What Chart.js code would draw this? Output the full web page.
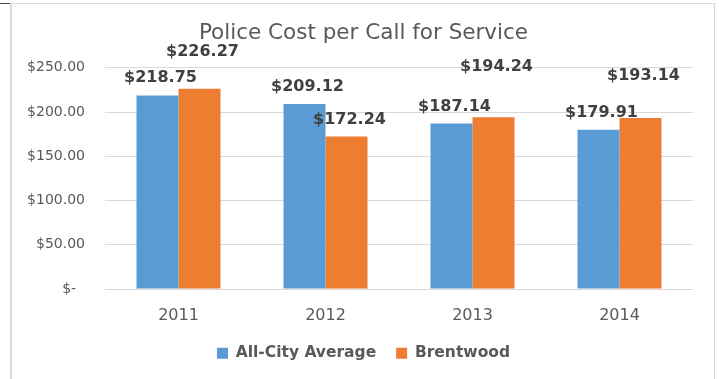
<!DOCTYPE html>
<html>
<head>
<meta charset="utf-8">
<script src="https://cdn.jsdelivr.net/npm/chart.js@4.4.1/dist/chart.umd.min.js"></script>
<style>
  html, body { margin: 0; padding: 0; background: #ffffff; }
  #wrap { width: 719px; height: 379px; position: relative; }
</style>
</head>
<body>
<div id="wrap"><canvas id="c" width="719" height="379"></canvas></div>
<script>
const categories = ['2011', '2012', '2013', '2014'];
const allCityAverage = [218.75, 209.12, 187.14, 179.91];
const brentwood = [226.27, 172.24, 194.24, 193.14];
const seriesNames = ['All-City Average', 'Brentwood'];
const yTickValues = [0, 50, 100, 150, 200, 250];
const chartTitle = 'Police Cost per Call for Service';

// label lift above bar top (pixels), as placed in the original
const labelLift = [
  [19, 18, 18, 18],
  [38, 18, 51, 43]
];

const FONT = '"DejaVu Sans", sans-serif';
const fmt = v => '$' + v.toFixed(2);

const framePlugin = {
  id: 'frame',
  beforeDraw(chart) {
    const ctx = chart.ctx;
    ctx.save();
    ctx.fillStyle = '#ffffff';
    ctx.fillRect(0, 0, chart.width, chart.height);
    ctx.fillStyle = '#d9d9d9';
    ctx.fillRect(10, 3, 706, 1);
    ctx.fillRect(10, 3, 2, chart.height - 3);
    ctx.fillRect(714, 3, 1, chart.height - 3);
    ctx.fillStyle = '#44546a';
    ctx.fillRect(0, 3, 10, 1);
    ctx.restore();
  }
};

const labelPlugin = {
  id: 'barLabels',
  afterDatasetsDraw(chart) {
    const ctx = chart.ctx;
    ctx.save();
    ctx.font = 'bold 16px ' + FONT;
    ctx.fillStyle = '#404040';
    ctx.textAlign = 'center';
    ctx.textBaseline = 'middle';
    chart.data.datasets.forEach((ds, di) => {
      const meta = chart.getDatasetMeta(di);
      meta.data.forEach((bar, i) => {
        ctx.fillText(fmt(ds.data[i]), bar.x + 3, bar.y - labelLift[di][i] + 1);
      });
    });
    ctx.restore();
  }
};

new Chart(document.getElementById('c'), {
  type: 'bar',
  data: {
    labels: categories,
    datasets: [
      { label: seriesNames[0], data: allCityAverage, backgroundColor: '#5b9bd5', yAxisID: 'y' },
      { label: seriesNames[1], data: brentwood, backgroundColor: '#ed7d31', yAxisID: 'y' }
    ]
  },
  options: {
    responsive: false,
    animation: false,
    devicePixelRatio: 1,
    layout: { padding: { left: 8, right: 0, top: 0, bottom: 8 } },
    datasets: { bar: { categoryPercentage: 1 / 1.75, barPercentage: 1 } },
    scales: {
      x: {
        grid: { display: false, drawTicks: false },
        border: { display: false },
        ticks: { color: '#595959', font: { family: FONT, size: 16 }, padding: 17 },
        afterFit(s) { s.height = 36.5; }
      },
      y: {
        position: 'left',
        min: 0, max: 250,
        afterBuildTicks(s) { s.ticks = yTickValues.map(v => ({ value: v })); },
        grid: { color: '#d9d9d9', drawTicks: false },
        border: { display: false },
        ticks: {
          color: '#595959',
          font: { family: FONT, size: 14 },
          padding: 20,
          callback: v => v === 0 ? '$-  ' : fmt(v)
        },
        afterFit(s) { s.width = 97; }
      },
      yRight: {
        position: 'right',
        display: true,
        grid: { display: false, drawTicks: false },
        border: { display: false },
        ticks: { display: false },
        afterFit(s) { s.width = 26; }
      }
    },
    plugins: {
      title: {
        display: true,
        text: chartTitle,
        color: '#595959',
        font: { family: FONT, size: 21.5, weight: 'normal' },
        padding: { top: 21, bottom: 21 }
      },
      legend: {
        position: 'bottom',
        labels: {
          color: '#595959',
          font: { family: FONT, size: 15.5, weight: 'bold' },
          boxWidth: 11, boxHeight: 11,
          padding: 20
        }
      },
      tooltip: { enabled: false }
    }
  },
  plugins: [framePlugin, labelPlugin]
});
</script>
</body>
</html>
